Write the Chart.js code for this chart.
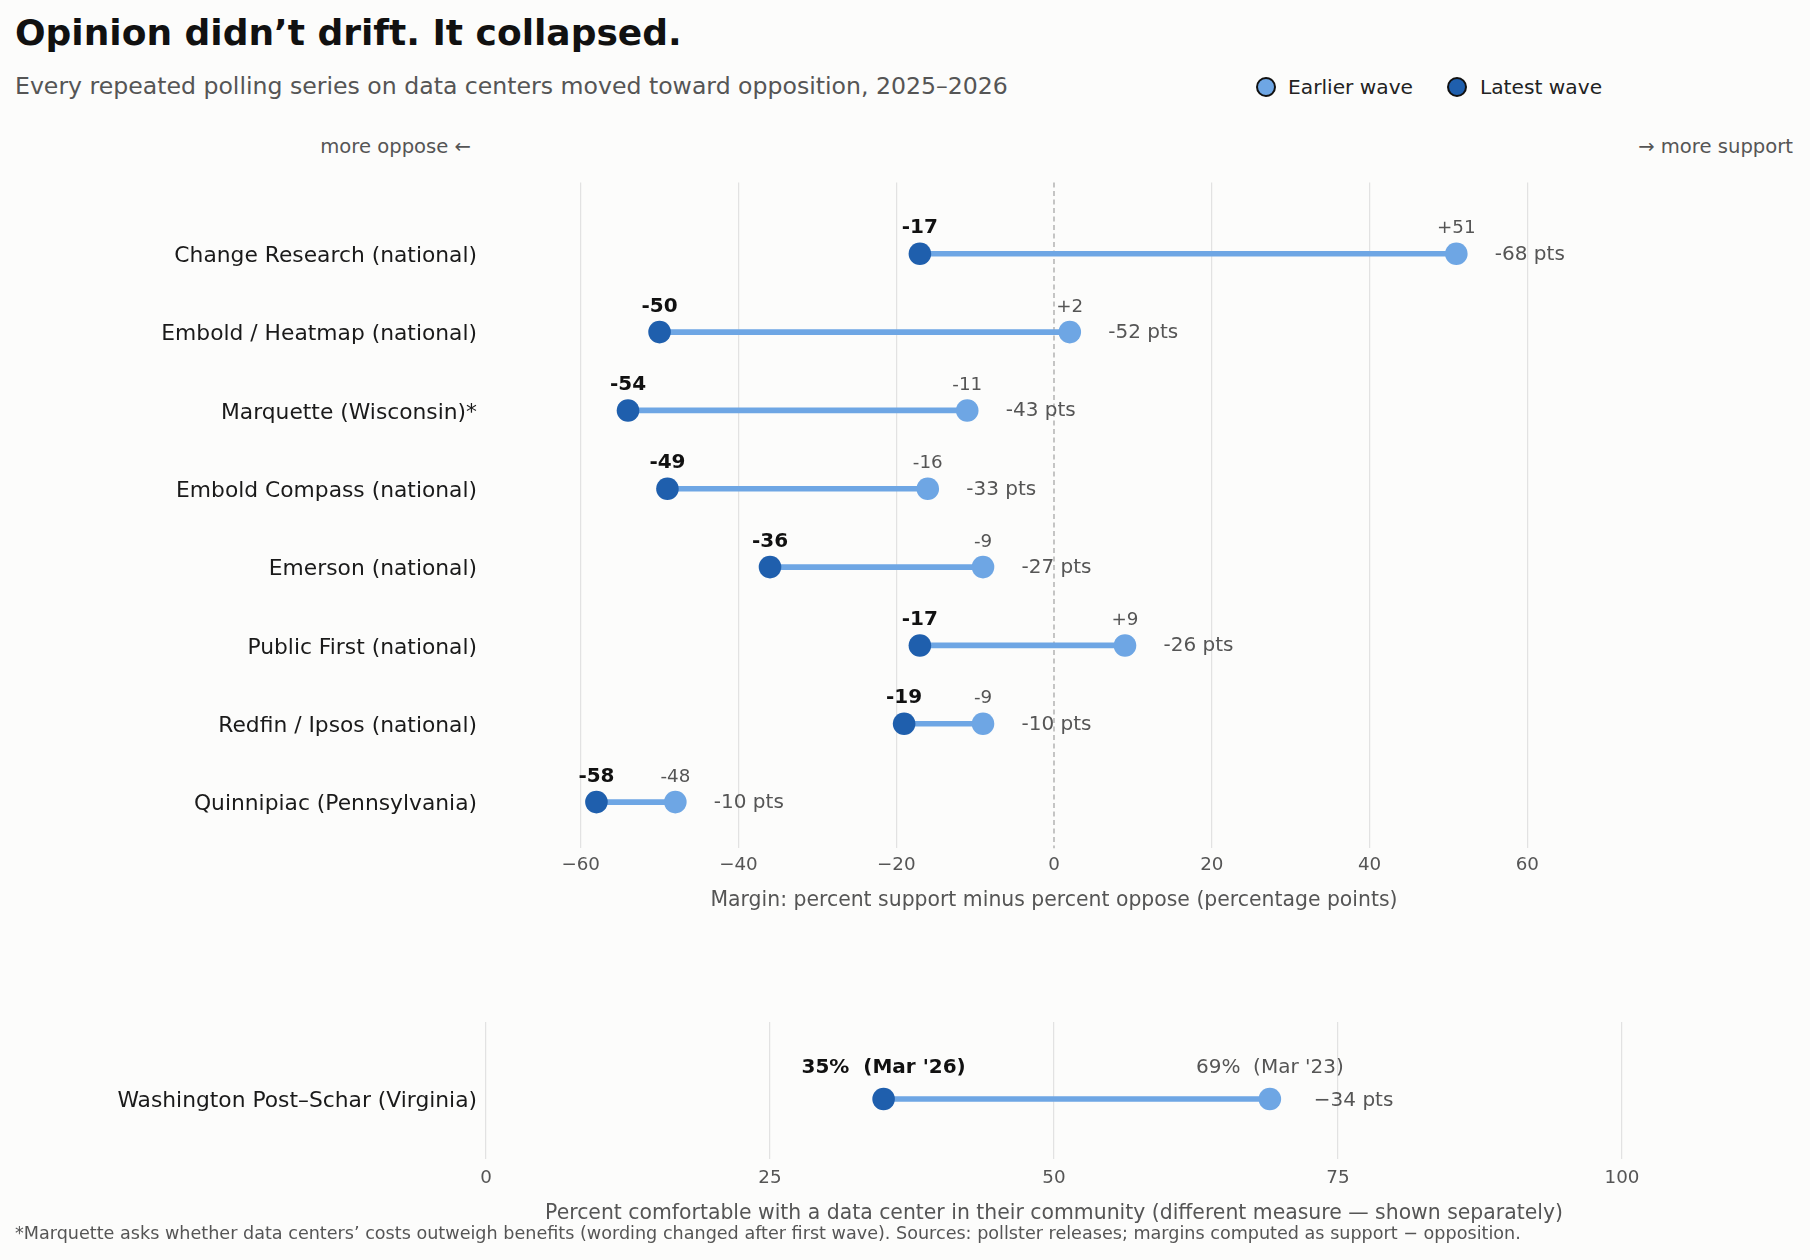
<!DOCTYPE html>
<html>
<head>
<meta charset="utf-8">
<title>Opinion didn’t drift. It collapsed.</title>
<script src="https://cdn.jsdelivr.net/npm/chart.js@4.4.1/dist/chart.umd.min.js"></script>
<style>
  html, body { margin: 0; padding: 0; background: #fcfcfb; }
  body { width: 1810px; height: 1260px; position: relative; overflow: hidden; font-family: "DejaVu Sans", sans-serif; }
  .txt { position: absolute; white-space: nowrap; line-height: 1; }
  #title { left: 15px; top: 14.5px; font-size: 36px; font-weight: bold; color: #111; }
  #subtitle { left: 15px; top: 75px; font-size: 23.6px; color: #555; }
  .dot { position: absolute; width: 16px; height: 16px; border: 2px solid #111; border-radius: 50%; top: 77.3px; }
  .legtxt { top: 77px; font-size: 20.2px; color: #222; }
  .side { top: 136.5px; font-size: 19.6px; color: #555; }
  #footnote { left: 15px; top: 1224.5px; font-size: 17.6px; color: #555; }
  canvas { position: absolute; left: 0; }
</style>
</head>
<body>
<div id="title" class="txt">Opinion didn’t drift. It collapsed.</div>
<div id="subtitle" class="txt">Every repeated polling series on data centers moved toward opposition, 2025–2026</div>

<span class="dot" style="left:1255.7px; background:#6ea6e4;"></span>
<div class="txt legtxt" style="left:1288px;">Earlier wave</div>
<span class="dot" style="left:1447.3px; background:#1f5fad;"></span>
<div class="txt legtxt" style="left:1480px;">Latest wave</div>

<div class="txt side" style="right:1339px;">more oppose ←</div>
<div class="txt side" style="right:17px;">→ more support</div>

<canvas id="marginChart" width="1810" height="760" style="top:160px;"></canvas>
<canvas id="comfortChart" width="1810" height="250" style="top:1000px;"></canvas>

<div id="footnote" class="txt">*Marquette asks whether data centers’ costs outweigh benefits (wording changed after first wave). Sources: pollster releases; margins computed as support − opposition.</div>

<script>
// margin = % support minus % oppose, one row per repeated series
const pollsters = [
  "Change Research (national)",
  "Embold / Heatmap (national)",
  "Marquette (Wisconsin)*",
  "Embold Compass (national)",
  "Emerson (national)",
  "Public First (national)",
  "Redfin / Ipsos (national)",
  "Quinnipiac (Pennsylvania)"
];
const latestMargin = [-17, -50, -54, -49, -36, -17, -19, -58];
const earlierMargin = [51, 2, -11, -16, -9, 9, -9, -48];
const marginTicks = [-60, -40, -20, 0, 20, 40, 60];

// separate measure: % comfortable with a data center nearby
const comfortLabels = ["Washington Post–Schar (Virginia)"];
const comfortLatest = [35];
const comfortEarlier = [69];
const comfortLatestWhen = ["Mar '26"];
const comfortEarlierWhen = ["Mar '23"];
const comfortTicks = [0, 25, 50, 75, 100];

const EARLY = "#6ea6e4";
const LATE = "#1f5fad";
const GRID = "#e2e2e2";
const FONT = '"DejaVu Sans", sans-serif';

Chart.defaults.font.family = FONT;
Chart.defaults.animation = false;

const uminus = v => String(v).replace("-", "\u2212");

function dumbbellData(latest, earlier) {
  return [
    {
      type: "bar",
      indexAxis: "y",
      data: latest.map((v, i) => ({ x: [v, earlier[i]], y: i })),
      backgroundColor: EARLY,
      barThickness: 5,
      borderWidth: 0,
      order: 3
    },
    {
      type: "scatter",
      data: earlier.map((v, i) => ({ x: v, y: i })),
      backgroundColor: EARLY,
      pointRadius: 11.3,
      pointHoverRadius: 11.3,
      pointBorderWidth: 0,
      order: 2
    },
    {
      type: "scatter",
      data: latest.map((v, i) => ({ x: v, y: i })),
      backgroundColor: LATE,
      pointRadius: 11.3,
      pointHoverRadius: 11.3,
      pointBorderWidth: 0,
      order: 1
    }
  ];
}

function labelPlugin(cfg) {
  return {
    id: "dumbbellLabels",
    afterDatasetsDraw(chart) {
      const ctx = chart.ctx;
      const early = chart.getDatasetMeta(1).data;
      const late = chart.getDatasetMeta(2).data;
      ctx.save();
      ctx.textBaseline = "alphabetic";
      late.forEach((pt, i) => {
        const ep = early[i];
        ctx.textAlign = "center";
        ctx.font = cfg.latestFont;
        ctx.fillStyle = "#111";
        ctx.fillText(cfg.latestText(i), pt.x, pt.y - cfg.rise);
        ctx.font = cfg.earlierFont;
        ctx.fillStyle = "#555";
        ctx.fillText(cfg.earlierText(i), ep.x, ep.y - cfg.rise);
        ctx.textAlign = "left";
        ctx.font = cfg.deltaFont;
        ctx.fillText(cfg.deltaText(i), ep.x + cfg.gap, ep.y + cfg.drop);
      });
      ctx.restore();
    }
  };
}

const zeroLine = {
  id: "zeroLine",
  beforeDatasetsDraw(chart) {
    const { ctx, chartArea, scales } = chart;
    const x = scales.x.getPixelForValue(0);
    ctx.save();
    ctx.strokeStyle = "#a0a0a0";
    ctx.lineWidth = 1.2;
    ctx.setLineDash([5, 3.5]);
    ctx.beginPath();
    ctx.moveTo(x, chartArea.top);
    ctx.lineTo(x, chartArea.bottom);
    ctx.stroke();
    ctx.restore();
  }
};

function axisX(min, max, ticks, title, height, tickPad, titlePad, hideZero) {
  return {
    type: "linear",
    min: min,
    max: max,
    offset: false,
    afterBuildTicks: a => { a.ticks = ticks.map(v => ({ value: v })); },
    afterFit: a => { a.height = height; },
    grid: {
      offset: false,
      color: c => (hideZero && c.tick && c.tick.value === 0) ? "rgba(0,0,0,0)" : GRID,
      lineWidth: 1.2,
      drawTicks: false
    },
    border: { display: false },
    ticks: { color: "#555", font: { size: 18.3 }, padding: tickPad, callback: v => uminus(v) },
    title: { display: true, text: title, color: "#555", font: { size: 20.4 }, padding: { top: 0, bottom: titlePad } }
  };
}

function axisY(min, max, labels) {
  return {
    type: "linear",
    reverse: true,
    min: min,
    max: max,
    offset: false,
    afterBuildTicks: a => { a.ticks = labels.map((_, i) => ({ value: i })); },
    afterFit: a => { a.width = 486; },
    grid: { display: false, offset: false, drawTicks: false },
    border: { display: false },
    ticks: { color: "#1a1a1a", font: { size: 21.8 }, padding: 9, labelOffset: 2.5, autoSkip: false, callback: v => labels[v] }
  };
}

new Chart(document.getElementById("marginChart"), {
  type: "scatter",
  data: { datasets: dumbbellData(latestMargin, earlierMargin) },
  options: {
    responsive: false,
    events: [],
    layout: { padding: { top: 22.5, right: 188, bottom: 0, left: 0 } },
    plugins: { legend: { display: false }, tooltip: { enabled: false } },
    scales: {
      x: axisX(-72, 72, marginTicks, "Margin: percent support minus percent oppose (percentage points)", 71.7, 6, 6.8, true),
      y: axisY(-0.91, 7.59, pollsters)
    }
  },
  plugins: [zeroLine, labelPlugin({
    latestFont: "bold 20px " + FONT,
    earlierFont: "18.3px " + FONT,
    deltaFont: "20px " + FONT,
    latestText: i => String(latestMargin[i]),
    earlierText: i => (earlierMargin[i] > 0 ? "+" : "") + earlierMargin[i],
    deltaText: i => (latestMargin[i] - earlierMargin[i]) + " pts",
    rise: 20.4,
    gap: 38.5,
    drop: 6
  })]
});

new Chart(document.getElementById("comfortChart"), {
  type: "scatter",
  data: { datasets: dumbbellData(comfortLatest, comfortEarlier) },
  options: {
    responsive: false,
    events: [],
    layout: { padding: { top: 18, right: 188, bottom: 0, left: 0 } },
    plugins: { legend: { display: false }, tooltip: { enabled: false } },
    scales: {
      x: axisX(0, 100, comfortTicks, "Percent comfortable with a data center in their community (different measure — shown separately)", 90.7, 8, 24.5, false),
      y: axisY(-1.015, 0.795, comfortLabels)
    }
  },
  plugins: [labelPlugin({
    latestFont: "bold 20px " + FONT,
    earlierFont: "20px " + FONT,
    deltaFont: "20px " + FONT,
    latestText: i => comfortLatest[i] + "%  (" + comfortLatestWhen[i] + ")",
    earlierText: i => comfortEarlier[i] + "%  (" + comfortEarlierWhen[i] + ")",
    deltaText: i => uminus(comfortLatest[i] - comfortEarlier[i]) + " pts",
    rise: 26.5,
    gap: 44,
    drop: 6.5
  })]
});
</script>
</body>
</html>
